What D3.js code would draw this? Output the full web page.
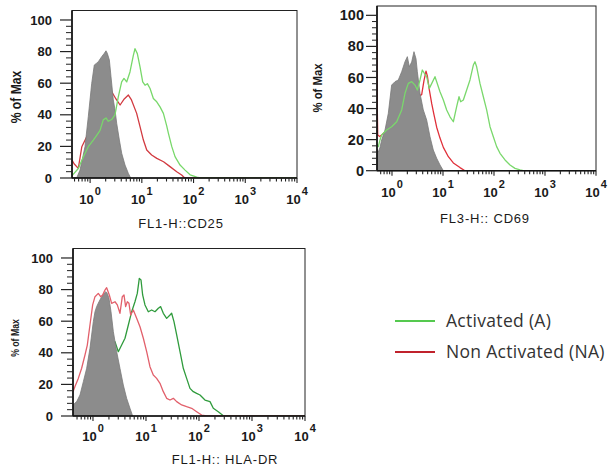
<!DOCTYPE html>
<html><head><meta charset="utf-8">
<script src="https://cdn.jsdelivr.net/npm/d3@7"></script>
<style>body{margin:0;background:#fff}svg{display:block}</style>
</head><body>
<svg id="c" width="616" height="467"></svg>
<script>
// ---------------- DATA ----------------
// x values are log10(fluorescence intensity); y values are % of Max
const decadeExponents = [0, 1, 2, 3, 4];
const yTickValues = [0, 20, 40, 60, 80, 100];
const seriesNames = ["Activated (A)", "Non Activated (NA)"];
const panelTitles = ["FL1-H::CD25", "FL3-H:: CD69", "FL1-H:: HLA-DR"];
const yAxisTitle = "% of Max";

const cd25Control = [[-0.35,0],[-0.26,0],[-0.195,5],[-0.099,19.8],[-0.035,38.8],[0.031,59.9],[0.081,71.5],[0.12,72.5],[0.159,73.6],[0.224,76.8],[0.275,78.9],[0.307,80.5],[0.333,78.9],[0.372,74.7],[0.404,64.1],[0.449,49.4],[0.482,43],[0.514,34.6],[0.566,24],[0.611,15.6],[0.675,8.2],[0.74,2.9],[0.785,0]];
const cd25NonActivated = [[-0.35,11.4],[-0.31,9],[-0.228,6.1],[-0.16,19.8],[-0.066,26.1],[0.1,36],[0.25,47],[0.35,53],[0.418,54.6],[0.5,50],[0.58,46.2],[0.66,50],[0.74,52.5],[0.8,49.4],[0.9,40.9],[0.965,32.5],[1.03,24],[1.095,17.7],[1.19,14.6],[1.29,12.4],[1.42,10.3],[1.545,7.2],[1.675,4],[1.77,1.9],[1.83,0],[4,0]];
const cd25Activated = [[-0.35,1],[-0.336,2],[-0.228,6],[-0.13,13.5],[-0.035,19.8],[0.062,24],[0.127,27],[0.19,30],[0.255,36.8],[0.307,38],[0.352,35.9],[0.417,37],[0.481,40],[0.546,51.5],[0.61,60.8],[0.655,63],[0.707,60.8],[0.771,67.1],[0.836,77.6],[0.868,81.8],[0.913,78.7],[0.965,70.3],[1.017,60.8],[1.062,58.7],[1.107,59.7],[1.159,56.6],[1.223,50.3],[1.288,48.2],[1.352,45],[1.417,40.9],[1.481,33],[1.513,28.4],[1.578,20],[1.642,13.5],[1.739,8.2],[1.836,5],[1.933,2],[2.062,0.5],[2.127,0],[4,0]];

const cd69Control = [[-0.294,14],[-0.268,12],[-0.235,15],[-0.203,19.8],[-0.137,26.2],[-0.072,36.9],[-0.007,55.1],[0.059,57.3],[0.124,58.4],[0.19,63.7],[0.255,70.2],[0.301,73.4],[0.34,66.9],[0.386,70],[0.431,76.6],[0.471,72],[0.497,63.7],[0.549,49.8],[0.614,39.1],[0.68,32.6],[0.745,21.9],[0.81,13.3],[0.876,8],[0.941,3.7],[1.007,0]];
const cd69NonActivated = [[-0.294,85],[-0.288,40],[-0.28,23],[-0.24,22],[-0.203,23],[-0.137,25],[0.092,35],[0.353,45],[0.582,49],[0.627,58],[0.667,64],[0.693,61],[0.732,52],[0.78,43],[0.824,36],[0.876,28],[0.941,21],[1.007,15],[1.105,9],[1.203,5],[1.333,2],[1.431,0],[4,0]];
const cd69Activated = [[-0.294,17],[-0.268,15.5],[-0.235,19.8],[-0.203,23],[-0.105,26.2],[-0.007,28.3],[0.092,31.5],[0.19,39.1],[0.255,49.8],[0.32,56.2],[0.386,57.3],[0.451,55.1],[0.497,51.9],[0.549,58.4],[0.595,64.8],[0.634,62.7],[0.68,60.5],[0.732,53],[0.78,56.2],[0.843,60.5],[0.876,57.3],[0.941,50.8],[1.007,45.5],[1.072,39.1],[1.137,34.7],[1.203,31.5],[1.268,41.2],[1.314,47.6],[1.347,44.4],[1.399,45.5],[1.464,51.9],[1.529,58.4],[1.595,68],[1.627,70.1],[1.66,66.9],[1.725,56.2],[1.791,47.6],[1.856,39.1],[1.922,28.3],[1.987,21.9],[2.052,15.5],[2.118,11.2],[2.216,6.9],[2.314,3.7],[2.412,1.5],[2.51,0.5],[2.575,0],[4,0]];

const hladrControl = [[-0.377,7],[-0.308,9.1],[-0.245,13.3],[-0.182,21.7],[-0.119,30.2],[-0.057,42.8],[0.006,59.7],[0.038,66],[0.069,69.2],[0.113,72.3],[0.164,75.5],[0.208,77.6],[0.245,78.7],[0.27,77.6],[0.302,74.5],[0.34,66],[0.384,53.4],[0.447,40.7],[0.509,30.2],[0.572,19.6],[0.635,11.2],[0.698,4.9],[0.748,0]];
const hladrNonActivated = [[-0.377,15.4],[-0.34,18.6],[-0.277,23.8],[-0.214,30.2],[-0.151,38.6],[-0.107,44.9],[-0.057,57.6],[-0.006,70.3],[0.038,75.5],[0.1,77.6],[0.145,75.5],[0.182,76.6],[0.226,79.7],[0.258,81.2],[0.308,76.6],[0.352,71.3],[0.415,72.3],[0.459,70.3],[0.509,65],[0.553,75.5],[0.585,76.6],[0.616,69.2],[0.648,72.3],[0.679,71.3],[0.711,63.9],[0.761,67.1],[0.824,61.8],[0.887,56.5],[0.95,49.2],[1.013,40.7],[1.075,31.2],[1.138,25.9],[1.201,23.8],[1.264,20.7],[1.327,15.4],[1.39,11.2],[1.453,10.1],[1.516,11.2],[1.579,9.1],[1.673,7],[1.767,5.9],[1.862,4.9],[1.956,2.7],[2.05,0.6],[2.145,0],[4,0]];
const hladrActivated = [[-0.377,3],[-0.2,8],[0.0,20],[0.2,35],[0.35,44],[0.415,47],[0.478,40.7],[0.541,44.9],[0.604,49.2],[0.667,57.6],[0.73,66],[0.792,72.3],[0.836,77.6],[0.874,87.1],[0.906,86.1],[0.937,76.6],[0.981,70.3],[1.044,66],[1.107,67.1],[1.17,66],[1.233,68.2],[1.277,69.2],[1.327,65],[1.39,61.8],[1.453,63.9],[1.484,65],[1.528,59.7],[1.579,51.3],[1.642,40.7],[1.704,30.2],[1.767,23.8],[1.83,17.5],[1.893,15.4],[1.956,14.3],[2.019,13.3],[2.113,10.1],[2.208,9.1],[2.27,4.9],[2.364,2.7],[2.459,0.2],[2.5,0],[4,0]];

// ---------------- LAYOUT / STYLE ----------------
const panels = [
  {title: panelTitles[0], control: cd25Control, na: cd25NonActivated, act: cd25Activated,
   xMinExp: -0.35, left: 72, right: 297, top: 10.5, bottom: 178,
   majorLen: 12, minorLen: 6, yLabelPad: 8, yLabelSize: 13, xLabelDy: 26, titleX: 181, titleY: 228,
   yTitleX: 16, yTitleY: 97, yTitleSize: 14, green: "#78d86a", red: "#d23a40",
   order: ["na", "control", "act"]},
  {title: panelTitles[1], control: cd69Control, na: cd69NonActivated, act: cd69Activated,
   xMinExp: -0.294, left: 377, right: 596, top: 6, bottom: 170.7,
   majorLen: 11, minorLen: 5, yLabelPad: 2, yLabelSize: 14.5, xLabelDy: 26, titleX: 485, titleY: 223,
   yTitleX: 317, yTitleY: 88, yTitleSize: 13, green: "#7ad86c", red: "#e0303a",
   order: ["na", "control", "act"]},
  {title: panelTitles[2], control: hladrControl, na: hladrNonActivated, act: hladrActivated,
   xMinExp: -0.377, left: 73, right: 305, top: 248.5, bottom: 416,
   majorLen: 12, minorLen: 6, yLabelPad: 8, yLabelSize: 13, xLabelDy: 25, titleX: 225, titleY: 464,
   yTitleX: 15, yTitleY: 338, yTitleSize: 10, green: "#2f9b3c", red: "#e2606b",
   order: ["act", "control", "na"]}
];
const grayFill = "#8c8c8c";
const fontAxis = "'Liberation Sans', Arial, sans-serif";

const svg = d3.select("#c");

panels.forEach((p, i) => {
  const x = d3.scaleLog().domain([Math.pow(10, p.xMinExp), 1e4]).range([p.left, p.right]);
  const y = d3.scaleLinear().domain([0, 106]).range([p.bottom, p.top]);
  const g = svg.append("g");

  const clipId = "clip" + i;
  g.append("clipPath").attr("id", clipId).append("rect")
    .attr("x", p.left).attr("y", p.top).attr("width", p.right - p.left).attr("height", p.bottom - p.top);
  const plot = g.append("g").attr("clip-path", `url(#${clipId})`);

  const lineGen = d3.line().x(d => x(Math.pow(10, d[0]))).y(d => y(d[1]));
  const areaGen = d3.area().x(d => x(Math.pow(10, d[0]))).y0(y(0)).y1(d => y(d[1]));

  p.order.forEach(k => {
    if (k === "control") {
      plot.append("path").datum(p.control).attr("d", areaGen)
        .attr("fill", grayFill).attr("stroke", "#7a7a7a").attr("stroke-width", 0.8);
    } else {
      plot.append("path").datum(p[k]).attr("d", lineGen)
        .attr("fill", "none").attr("stroke", k === "act" ? p.green : p.red)
        .attr("stroke-width", 1.3).attr("stroke-linejoin", "round");
    }
  });

  // frame
  g.append("rect").attr("x", p.left).attr("y", p.top)
    .attr("width", p.right - p.left).attr("height", p.bottom - p.top)
    .attr("fill", "none").attr("stroke", "#222").attr("stroke-width", 1);
  g.append("line").attr("x1", p.left).attr("x2", p.left).attr("y1", p.top).attr("y2", p.bottom)
    .attr("stroke", "#111").attr("stroke-width", 1.6);
  g.append("line").attr("x1", p.left).attr("x2", p.right).attr("y1", p.bottom).attr("y2", p.bottom)
    .attr("stroke", "#111").attr("stroke-width", 1.6);

  // y ticks
  const minorY = d3.range(0, 101, 4).filter(v => v % 20 !== 0);
  g.selectAll(".ymin").data(minorY).enter().append("line")
    .attr("x1", p.left - p.minorLen).attr("x2", p.left)
    .attr("y1", d => y(d)).attr("y2", d => y(d)).attr("stroke", "#222").attr("stroke-width", 1);
  g.selectAll(".ymaj").data(yTickValues).enter().append("line")
    .attr("x1", p.left - p.majorLen).attr("x2", p.left)
    .attr("y1", d => y(d)).attr("y2", d => y(d)).attr("stroke", "#222").attr("stroke-width", 1.2);
  g.selectAll(".ylab").data(yTickValues).enter().append("text")
    .attr("x", p.left - p.majorLen - p.yLabelPad).attr("y", d => y(d))
    .attr("dy", "0.35em").attr("text-anchor", "end")
    .attr("font-family", fontAxis).attr("font-weight", "bold")
    .attr("font-size", p.yLabelSize).attr("fill", "#1a1a1a")
    .text(d => d);

  // x ticks (log minor + decade)
  const xt = x.ticks();
  g.selectAll(".xt").data(xt).enter().append("line")
    .attr("x1", d => x(d)).attr("x2", d => x(d))
    .attr("y1", p.bottom).attr("y2", d => {
      const l = Math.log10(d);
      return p.bottom + (Math.abs(l - Math.round(l)) < 1e-9 ? 5 : 3.5);
    })
    .attr("stroke", "#222").attr("stroke-width", 1.1);

  const xl = g.selectAll(".xl").data(decadeExponents).enter().append("text")
    .attr("x", d => x(Math.pow(10, d))).attr("y", p.bottom + p.xLabelDy)
    .attr("text-anchor", "middle").attr("font-family", fontAxis).attr("font-weight", "bold")
    .attr("font-size", 13).attr("fill", "#1a1a1a");
  xl.append("tspan").text("10");
  xl.append("tspan").attr("dy", -9).attr("dx", 1).attr("font-size", 11).text(d => d);

  g.append("text").attr("x", p.titleX).attr("y", p.titleY).attr("text-anchor", "middle")
    .attr("font-family", fontAxis).attr("font-size", 13).attr("letter-spacing", 0.8)
    .attr("fill", "#1a1a1a").text(p.title);

  g.append("text")
    .attr("transform", `translate(${p.yTitleX},${p.yTitleY}) rotate(-90) scale(0.87,1)`)
    .attr("text-anchor", "middle").attr("dy", "0.35em")
    .attr("font-family", fontAxis).attr("font-weight", "bold")
    .attr("font-size", p.yTitleSize).attr("fill", "#1a1a1a")
    .text(yAxisTitle);
});

// legend
const legendColors = ["#55c94f", "#c0222c"];
const lg = svg.append("g");
seriesNames.forEach((name, i) => {
  const yy = 321 + i * 31;
  lg.append("line").attr("x1", 395).attr("x2", 435).attr("y1", yy).attr("y2", yy)
    .attr("stroke", legendColors[i]).attr("stroke-width", 2);
  lg.append("text").attr("x", 446).attr("y", yy).attr("dy", "0.35em")
    .attr("font-family", "'Open Sans', sans-serif").attr("font-size", 17.5)
    .attr("letter-spacing", 0.3).attr("fill", "#333")
    .text(name);
});
</script>
</body></html>
